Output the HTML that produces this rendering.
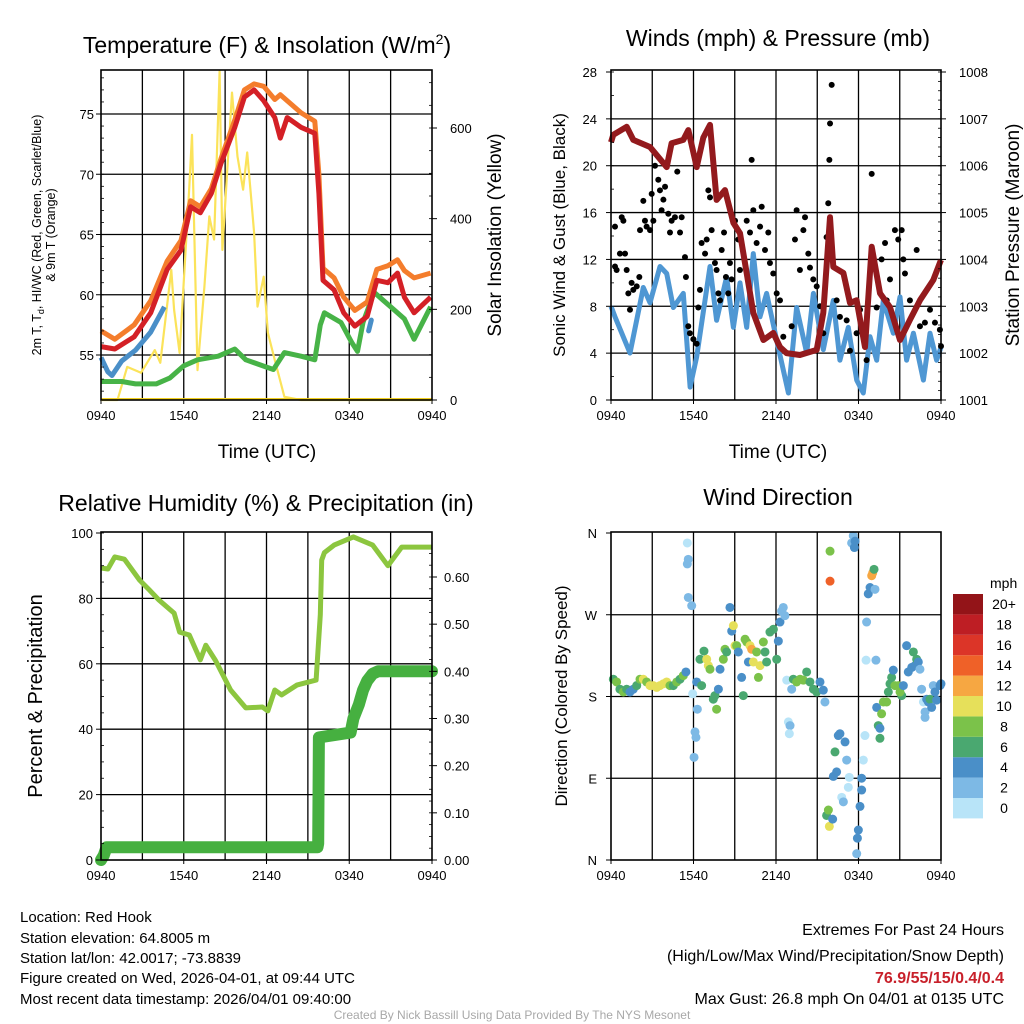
<!DOCTYPE html>
<html><head><meta charset="utf-8"><style>
html,body{margin:0;padding:0;background:#fff;}
svg{display:block;font-family:"Liberation Sans",Arial,sans-serif;}
</style></head><body>
<svg id="s" width="1024" height="1024" viewBox="0 0 1024 1024" xmlns="http://www.w3.org/2000/svg">
<g id="p1"></g>
<g id="p2"></g>
<g id="p3"></g>
<g id="p4"></g>
<text x="267" y="53" font-size="23" text-anchor="middle">Temperature (F) &amp; Insolation (W/m<tspan font-size="14" dy="-9">2</tspan><tspan dy="9">)</tspan></text>
<text x="778" y="46" font-size="23" text-anchor="middle">Winds (mph) &amp; Pressure (mb)</text>
<text x="266" y="511" font-size="23" text-anchor="middle">Relative Humidity (%) &amp; Precipitation (in)</text>
<text x="778" y="505" font-size="23" text-anchor="middle">Wind Direction</text>
<text x="267" y="458" font-size="19" text-anchor="middle">Time (UTC)</text>
<text x="778" y="458" font-size="19" text-anchor="middle">Time (UTC)</text>
<text transform="translate(41,235) rotate(-90)" font-size="12.5" text-anchor="middle">2m T, T<tspan font-size="9" dy="3">d</tspan><tspan dy="-3">, HI/WC (Red, Green, Scarlet/Blue)</tspan></text>
<text transform="translate(55,235) rotate(-90)" font-size="12.5" text-anchor="middle">&amp; 9m T (Orange)</text>
<text transform="translate(501,235) rotate(-90)" font-size="19" text-anchor="middle">Solar Insolation (Yellow)</text>
<text transform="translate(565,235) rotate(-90)" font-size="17" text-anchor="middle">Sonic Wind &amp; Gust (Blue, Black)</text>
<text transform="translate(1019,235) rotate(-90)" font-size="19" text-anchor="middle">Station Pressure (Maroon)</text>
<text transform="translate(42,696) rotate(-90)" font-size="20" text-anchor="middle">Percent &amp; Precipitation</text>
<text transform="translate(567,696) rotate(-90)" font-size="17" text-anchor="middle">Direction (Colored By Speed)</text>
<g font-size="15">
<text x="20" y="922">Location: Red Hook</text>
<text x="20" y="943">Station elevation: 64.8005 m</text>
<text x="20" y="963">Station lat/lon: 42.0017; -73.8839</text>
<text x="20" y="983">Figure created on Wed, 2026-04-01, at 09:44 UTC</text>
<text x="20" y="1004">Most recent data timestamp: 2026/04/01 09:40:00</text>
</g>
<g font-size="16" text-anchor="end">
<text x="1004" y="935">Extremes For Past 24 Hours</text>
<text x="1004" y="961">(High/Low/Max Wind/Precipitation/Snow Depth)</text>
<text x="1004" y="983" fill="#c8202a" font-weight="bold">76.9/55/15/0.4/0.4</text>
<text x="1004" y="1004">Max Gust: 26.8 mph On 04/01 at 0135 UTC</text>
</g>
<text x="512" y="1019" font-size="12" fill="#a8a8a8" text-anchor="middle">Created By Nick Bassill Using Data Provided By The NYS Mesonet</text>
</svg>
<script>
const timeTickLabels=["0940","1540","2140","0340","0940"];
const tempT=[0,1,2.4,3.6,4.8,5.8,6.5,7.2,8,8.7,9.7,10.4,11.1,11.8,12.6,13,13.5,14.5,15.5,15.8,16.1,16.9,17.6,18.4,19.3,20,20.8,21.5,22,22.7,23.9];
const tempV=[55.7,55.5,56.5,58.5,62.1,63.7,67.3,66.8,68.4,70.9,73.9,76.4,77,76.1,74.7,73,74.7,73.9,73.4,68.4,61.2,60.4,58.5,57.4,58.2,61.2,61,61.8,59.8,58.5,59.8];
const t9T=[0,1,2.4,3.6,4.8,5.8,6.5,7.2,8,8.7,9.7,10.4,11.1,11.8,12.6,13,14.5,15.5,15.8,16.1,16.9,17.6,18.4,19.3,20,20.8,21.5,22,22.7,23.9];
const t9V=[57,56.3,57.5,59.5,62.8,64.5,67.8,67.3,68.8,71.3,74.5,77,77.5,77.3,76.2,76.6,75.1,74.4,70,62.2,61.4,59.8,58.7,59.4,62.1,62.4,62.9,62,61.4,61.8];
const dewT=[0,1.5,2.5,4,5,6,7,8.5,9.7,10.5,12,12.5,13.3,14.5,15.5,15.9,16.2,17.4,18.2,18.6,19,19.8,21,22,22.7,23.9];
const dewV=[52.8,52.8,52.6,52.6,53.1,54.1,54.6,54.9,55.5,54.6,54,53.8,55.2,54.9,54.6,57.5,58.5,57.7,56,55.3,57.7,60.2,59,58,56.3,59];
const hiT=[0,0.5,0.8,1.5,2.5,3.6,4.6];
const hiV=[54.8,53.6,53.3,54.5,55.4,56.9,59];
const hiT2=[19.4,19.6];
const hiV2=[57,57.9];
const solT=[0,1.2,1.9,2.9,3.9,4.3,5.1,5.3,5.7,6.4,6.6,7.0,7.5,7.85,8.2,8.6,8.8,9.2,9.5,9.9,10.3,10.6,10.9,11.1,11.35,11.8,12.1,12.6,13.3,14.5,24];
const solV=[0,0,73,60,110,82,287,199,104,470,585,66,250,405,354,725,331,530,678,537,464,546,442,369,206,272,148,88,7,0,0];
const windT=[0,0.29,1.38,2.35,2.84,3.56,4.05,4.53,5.26,5.75,6.23,7.2,7.68,8.41,8.9,9.38,9.87,10.35,10.84,11.32,12.05,12.9,13.5,14.23,14.72,15.44,16.17,16.65,17.26,17.87,18.35,18.84,19.32,19.8,20.53,21.02,21.5,21.99,22.72,23.2,23.68,24];
const windV=[8,7.1,4,9.6,8.3,11.4,10.8,7.9,9.1,1.1,3.7,11.4,6.8,10.5,6.2,10,6.2,12.5,7.1,9.1,5.1,0.6,7.9,4,9.1,4.3,8.5,3.4,6.2,1.7,0.6,5.4,3.4,8.5,5.7,8.8,3.4,5.7,1.7,5.7,3.4,4.5];
const presT=[0,0.17,1.14,1.62,2.84,4.05,4.41,5.26,5.62,6.23,6.71,7.2,7.68,8.29,8.9,9.38,10.35,11.08,11.8,12.29,12.77,13.74,14.96,15.44,15.93,16.17,16.9,17.38,17.86,18.47,18.96,19.56,20.29,21.02,21.74,22.47,23.44,24];
const presV=[1006.5,1006.66,1006.83,1006.55,1006.4,1005.97,1006.48,1006.55,1006.76,1005.97,1006.6,1006.87,1005.27,1005.48,1004.78,1004.56,1002.86,1002.28,1002.43,1002.13,1002.0,1001.96,1002.07,1002.86,1004.9,1003.84,1003.71,1003.07,1003.13,1002.13,1004.27,1003.28,1002.98,1002.28,1002.71,1003.13,1003.56,1003.99];
const gustT=[0.29,0.29,0.41,0.65,0.78,0.9,1.02,1.14,1.26,1.38,1.5,1.62,1.87,2.06,2.11,2.35,2.47,2.59,2.84,2.96,3.08,3.2,3.44,3.56,3.68,3.81,3.93,4.17,4.29,4.41,4.65,4.82,5.02,5.14,5.38,5.45,5.62,5.74,5.99,6.23,6.35,6.47,6.59,6.84,6.96,7.08,7.2,7.32,7.56,7.68,7.81,7.93,8.05,8.22,8.36,8.53,8.65,8.77,9.02,9.26,9.38,9.87,10.11,10.23,10.35,10.59,10.84,10.96,11.2,11.44,11.56,11.8,12.05,12.29,12.53,13.14,13.38,13.5,13.74,13.99,14.11,14.35,14.47,14.71,14.96,15.2,15.44,15.68,15.8,15.88,15.93,16.05,16.41,16.65,17.14,17.38,17.86,18.11,18.59,18.96,19.32,19.68,19.93,20.05,20.29,20.65,20.89,21.14,21.26,21.38,21.74,22.23,22.47,22.83,23.2,23.56,23.92,24];
const gustV=[14.8,11.4,11.1,12.5,15.6,15.3,12.5,11.1,9.1,7.7,10,9.4,9.7,10.5,14.5,17,15.3,14.8,14.5,17.6,15.3,20,18.8,17.9,16.2,17.1,18.2,15.9,14.3,15.3,15.6,19.5,14.3,15.6,12.2,10.5,6.3,5.7,5.2,4.8,7.9,9.4,13.4,12.5,13.7,17.9,17.3,14.5,11.7,11.1,9.1,8.5,12.8,14.3,10.5,9.1,11.7,10.3,15.3,13.7,11.1,15.3,14.3,20.5,16.2,13.4,14.8,16.5,12.8,14.3,11.7,10.8,9.1,8.5,5.4,6.3,13.7,16.2,11.1,14.5,15.6,12.5,11.3,10.3,9.7,8,5.7,13.9,16.8,20.5,23.6,26.9,8.5,7.1,6.8,4.2,5.7,7.7,3.4,19.3,7.9,12,13.4,8.5,10.3,14.5,13.7,14.5,12,10.8,8.5,12.8,6.3,6.6,7.7,6.6,6,4.6];
const rhT=[0,0.5,1,1.7,2.8,3.5,4.2,5.3,5.7,6.4,7.2,7.6,8.3,9.4,10.5,11.7,12.1,12.6,13.1,14.2,15.6,15.9,16.0,16.2,16.9,18.3,19.7,20.8,21.8,22.8,24];
const rhV=[89.3,89,92.7,92,85.6,82.6,79.5,75.5,69.7,68.8,61.2,65.7,61,52,46.5,46.8,45.6,52,50.5,53.5,55,75,91.7,94,96.3,98.8,96.3,90,95.7,95.7,95.7];
const prT=[0,0.2,0.4,15.7,15.75,15.8,18.1,18.3,18.7,19.0,19.3,19.7,20.1,24];
const prV=[0,0.01,0.027,0.027,0.035,0.26,0.27,0.3,0.33,0.36,0.38,0.395,0.4,0.4];
const dirT=[0.17,0.41,0.65,0.9,1.14,1.38,1.62,1.87,2.11,2.35,2.59,2.84,3.08,3.32,3.56,3.81,4.05,4.29,4.53,4.78,5.02,5.26,5.45,5.55,5.62,5.55,5.62,5.87,5.94,6.23,6.28,6.11,6.18,6.04,6.47,6.59,6.76,6.96,7.08,7.2,7.44,7.56,7.68,7.81,7.93,8.17,8.29,8.41,8.65,8.78,8.9,9.02,9.14,9.26,9.5,9.62,9.75,9.87,9.99,10.11,10.23,10.35,10.59,10.72,10.84,11.08,11.2,11.32,11.56,11.81,12.05,12.17,12.29,12.41,12.53,12.65,12.78,12.9,13.02,12.97,13.14,13.26,13.5,13.75,13.99,14.23,14.47,14.72,14.96,15.2,15.44,15.56,15.93,15.93,16.17,16.41,16.29,16.53,16.65,17.02,17.14,17.26,17.33,16.78,16.9,17.62,17.5,17.75,17.7,15.68,15.81,15.88,16.12,18.23,18.23,18.11,17.99,17.92,17.87,18.35,18.47,18.59,18.55,18.71,18.84,18.96,19.03,19.13,19.2,19.27,19.32,19.44,19.56,19.56,19.68,19.81,20.05,20.17,20.29,20.41,20.53,20.65,20.9,21.14,21.02,21.26,21.5,21.62,21.87,21.99,22.11,22.23,22.35,22.47,22.59,22.72,22.84,22.84,22.96,23.08,23.2,23.32,23.44,23.56,23.68,23.93,24];
const dirV=[199,196,188,185,188,185,188,192,199,199,196,192,192,190,192,194,196,192,192,196,199,203,207,349,331,326,289,280,183,196,166,141,135,113,221,192,230,221,214,210,177,181,166,188,210,221,232,229,278,252,258,236,236,229,201,181,243,240,218,236,232,218,229,201,214,240,229,218,251,254,221,241,262,274,278,269,198,152,148,139,188,199,196,199,198,207,196,188,185,196,187,174,340,307,92,97,119,137,139,130,110,80,91,69,64,357,349,351,344,49,55,37,45,90,77,59,33,24,7,110,137,262,220,293,300,313,316,320,298,220,168,148,145,134,161,174,174,185,194,201,209,192,192,181,185,192,236,207,212,229,214,221,218,210,188,174,163,157,177,174,177,168,192,185,176,192,194];
const dirS=[7,8,7,8,6,4,4,6,8,10,8,10,10,10,10,10,10,8,6,8,6,8,4,0,2,2,2,2,0,4,2,2,2,2,6,6,6,10,10,8,6,6,8,4,4,8,8,6,4,4,10,10,8,4,4,6,8,8,4,10,12,10,8,8,10,8,6,6,6,6,6,4,4,2,2,2,0,0,2,0,2,6,8,8,8,6,6,6,6,4,4,2,8,14,4,4,6,4,4,4,2,0,0,0,2,2,2,4,4,6,8,10,4,4,4,4,4,4,2,0,0,2,0,4,4,12,12,6,2,2,4,6,4,6,8,8,8,6,6,6,4,8,8,6,8,4,4,4,4,6,4,6,4,2,2,0,2,2,4,4,6,4,2,4,4,4,4];
const speedColors=["#b8e4f8","#7db9e5","#4a8fc8","#4aa870","#7bc24a","#e6e05a","#f6a742","#ef6128","#dc3528","#be1e24","#931418"];
const speedLabels=["0","2","4","6","8","10","12","14","16","18","20+"];

const NS="http://www.w3.org/2000/svg";
function mk(parent,tag,attrs){const e=document.createElementNS(NS,tag);for(const k in attrs)e.setAttribute(k,attrs[k]);parent.appendChild(e);return e;}
function lin(d0,d1,r0,r1){return v=>r0+(v-d0)*(r1-r0)/(d1-d0);}
function path(xs,ys,fx,fy){return xs.map((t,i)=>(i?"L":"M")+fx(t).toFixed(1)+","+fy(ys[i]).toFixed(1)).join("");}

function frame(g,x0,x1,y0,y1,hLines,fy){
  const fx=lin(0,24,x0,x1);
  for(let h=3;h<24;h+=3){const l=mk(g,"line",{x1:fx(h),x2:fx(h),y1:y0,y2:y1,stroke:"#000","stroke-width":1.3});
  
  }
  hLines.forEach(v=>{const l=mk(g,"line",{x1:x0,x2:x1,y1:fy(v),y2:fy(v),stroke:"#000","stroke-width":1.3});
  
  });
  timeTickLabels.forEach((s,i)=>{const t=mk(g,"text",{x:fx(i*6),y:y1+20,"font-size":13,"text-anchor":"middle"});t.textContent=s;
  
  
  mk(g,"line",{x1:fx(i*6),x2:fx(i*6),y1:y1,y2:y1+4,stroke:"#000"});});
  return fx;
}
function border(g,x0,x1,y0,y1){const r=mk(g,"rect",{x:x0,y:y0,width:x1-x0,height:y1-y0,fill:"none",stroke:"#000","stroke-width":1.6});

}
function yTicks(g,vals,fy,x,anchor,fmt,side){vals.forEach(v=>{const t=mk(g,"text",{x:x,y:fy(v)+5,"font-size":13,"text-anchor":anchor});t.textContent=fmt(v);


mk(g,"line",{x1:side,x2:side+(anchor==="start"?5:-5),y1:fy(v),y2:fy(v),stroke:"#000"});});}
function minor(g,from,to,step,fy,x,dir){for(let v=from;v<=to+1e-9;v+=step){mk(g,"line",{x1:x,x2:x+dir*3,y1:fy(v),y2:fy(v),stroke:"#000","stroke-width":0.8});}}

// Panel 1
(function(){const g=document.getElementById("p1");const x0=101,x1=432,y0=70,y1=400;
const fy=lin(55,75,355,114);const fs=lin(0,600,400,128);
const fx=frame(g,x0,x1,y0,y1,[55,60,65,70,75],fy);
const sol=mk(g,"path",{d:path(solT,solV,fx,fs),fill:"none",stroke:"#fbe35a","stroke-width":2.2,"stroke-linejoin":"round"});


const dw=mk(g,"path",{d:path(dewT,dewV,fx,fy),fill:"none",stroke:"#47b347","stroke-width":5,"stroke-linejoin":"round"});


const h1=mk(g,"path",{d:path(hiT,hiV,fx,fy),fill:"none",stroke:"#4a8fc8","stroke-width":5,"stroke-linejoin":"round"});


const h2=mk(g,"path",{d:path(hiT2,hiV2,fx,fy),fill:"none",stroke:"#4a8fc8","stroke-width":5,"stroke-linecap":"round"});


const o=mk(g,"path",{d:path(t9T,t9V,fx,fy),fill:"none",stroke:"#f47d2c","stroke-width":5,"stroke-linejoin":"round"});


const r=mk(g,"path",{d:path(tempT,tempV,fx,fy),fill:"none",stroke:"#d42026","stroke-width":5,"stroke-linejoin":"round"});


mk(g,"line",{x1:x0,x2:x1,y1:y1-1,y2:y1-1,stroke:"#f2d020","stroke-width":2});
border(g,x0,x1,y0,y1);
yTicks(g,[55,60,65,70,75],fy,94,"end",v=>v,x0);
minor(g,52,78,1,fy,x0,1);
yTicks(g,[0,200,400,600],fs,450,"start",v=>v,x1);
minor(g,0,700,50,fs,x1,-1);
})();
// Panel 2
(function(){const g=document.getElementById("p2");const x0=611,x1=941,y0=70,y1=400;
const fy=lin(0,28,400,72);const fp=lin(1001,1008,400,72);
const fx=frame(g,x0,x1,y0,y1,[4,8,12,16,20,24],fy);
const w=mk(g,"path",{d:path(windT,windV,fx,fy),fill:"none",stroke:"#4f97d3","stroke-width":5,"stroke-linejoin":"round"});


gustT.forEach((t,i)=>{const c=mk(g,"circle",{cx:fx(t),cy:fy(gustV[i]),r:3,fill:"#000"});

});
const p=mk(g,"path",{d:path(presT,presV,fx,fp),fill:"none",stroke:"#931a1d","stroke-width":6,"stroke-linejoin":"round"});


border(g,x0,x1,y0,y1);
yTicks(g,[0,4,8,12,16,20,24,28],fy,597,"end",v=>v,x0);
minor(g,0,28,2,fy,x0,1);
yTicks(g,[1001,1002,1003,1004,1005,1006,1007,1008],fp,959,"start",v=>v,x1);
minor(g,1001,1008,0.2,fp,x1,-1);
})();
// Panel 3
(function(){const g=document.getElementById("p3");const x0=101,x1=432,y0=532,y1=860;
const fy=lin(0,100,860,533);const fp=lin(0,0.6,860,577);
const fx=frame(g,x0,x1,y0,y1,[20,40,60,80],fy);
const rh=mk(g,"path",{d:path(rhT,rhV,fx,fy),fill:"none",stroke:"#8cc63f","stroke-width":5,"stroke-linejoin":"round"});


const pr=mk(g,"path",{d:path(prT,prV,fx,fp),fill:"none",stroke:"#46b040","stroke-width":12,"stroke-linejoin":"round","stroke-linecap":"round"});


border(g,x0,x1,y0,y1);
yTicks(g,[0,20,40,60,80,100],fy,93,"end",v=>v,x0);
minor(g,0,100,5,fy,x0,1);
yTicks(g,[0,0.1,0.2,0.3,0.4,0.5,0.6],fp,444,"start",v=>v.toFixed(2),x1);
minor(g,0,0.65,0.025,fp,x1,-1);
})();
// Panel 4
(function(){const g=document.getElementById("p4");const x0=611,x1=941,y0=532,y1=860;
const fy=lin(0,360,860,533);
const fx=frame(g,x0,x1,y0,y1,[90,180,270],fy);
dirT.forEach((t,i)=>{const k=Math.min(10,Math.floor(dirS[i]/2));const c=mk(g,"circle",{cx:fx(t),cy:fy(dirV[i]),r:4.5,fill:speedColors[k]});

});
border(g,x0,x1,y0,y1);
yTicks(g,[0,90,180,270,360],fy,597,"end",v=>["N","E","S","W","N"][v/90],x0);
const lg=mk(g,"text",{x:990,y:588,"font-size":14});lg.textContent="mph";


speedColors.forEach((c,i)=>{const y=798-i*20.4;const r=mk(g,"rect",{x:953,y:y,width:30,height:20.4,fill:c});


const t=mk(g,"text",{x:1004,y:y+15,"font-size":14,"text-anchor":"middle"});t.textContent=speedLabels[i];

});
})();
</script>
</body></html>
